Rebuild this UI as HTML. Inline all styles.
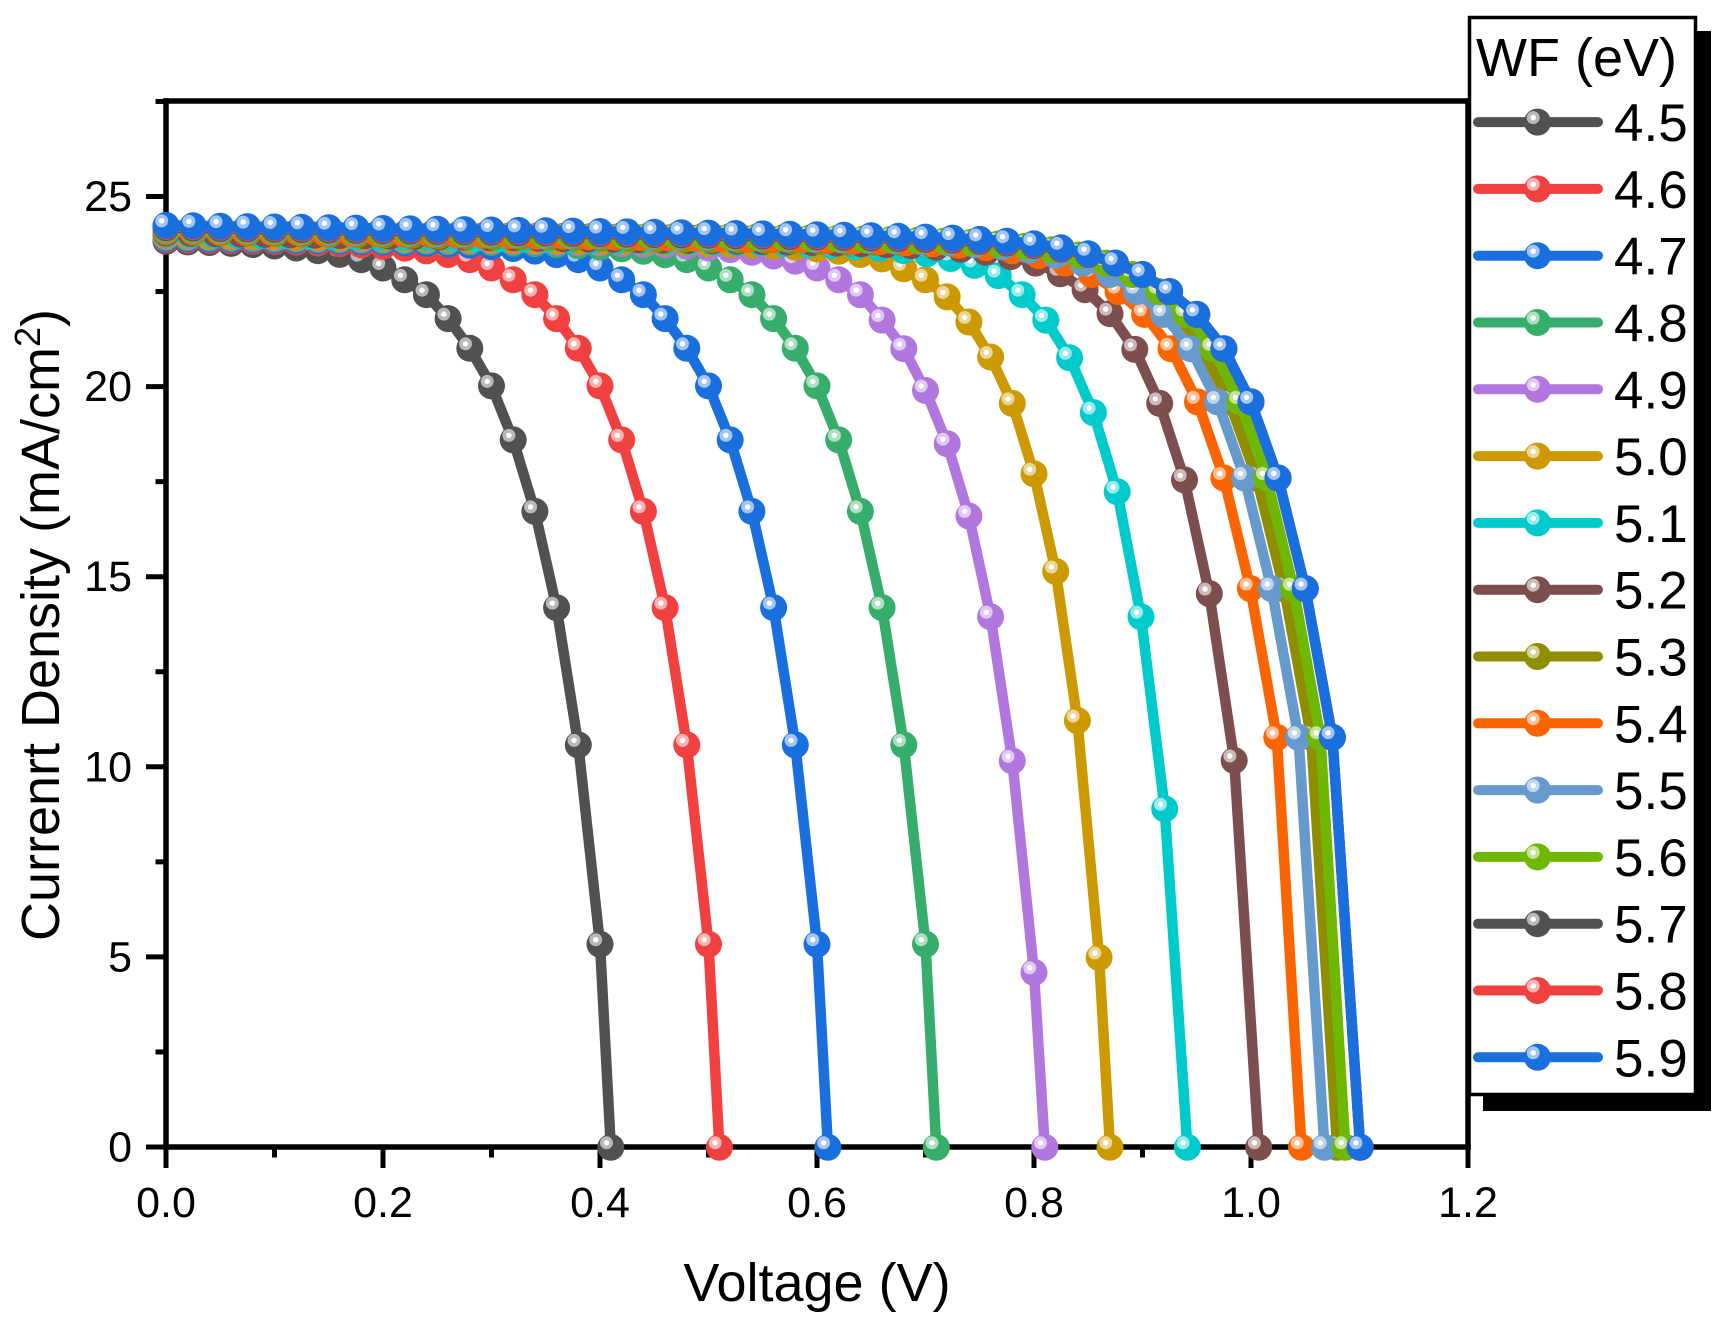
<!DOCTYPE html>
<html><head><meta charset="utf-8">
<style>
html,body{margin:0;padding:0;background:#fff;}
svg{display:block;}
text{font-family:"Liberation Sans",Arial,sans-serif;fill:#000;}
</style></head>
<body>
<svg width="1720" height="1323" viewBox="0 0 1720 1323" xmlns="http://www.w3.org/2000/svg">
<rect width="1720" height="1323" fill="#fff"/>
<!-- axes -->
<g stroke="#000" stroke-width="5.5" fill="none" stroke-linecap="square">
 <line x1="166" y1="101" x2="166" y2="1147"/>
 <line x1="166" y1="1147" x2="1468" y2="1147"/>
 <line x1="166" y1="101" x2="1468" y2="101"/>
 <line x1="1468" y1="101" x2="1468" y2="1147"/>
</g>
<g stroke="#000" stroke-width="5" fill="none">
 <line x1="166" y1="1147" x2="166" y2="1168"/>
 <line x1="383" y1="1147" x2="383" y2="1168"/>
 <line x1="600" y1="1147" x2="600" y2="1168"/>
 <line x1="817" y1="1147" x2="817" y2="1168"/>
 <line x1="1034" y1="1147" x2="1034" y2="1168"/>
 <line x1="1251" y1="1147" x2="1251" y2="1168"/>
 <line x1="1468" y1="1147" x2="1468" y2="1168"/>
 <line x1="274.5" y1="1147" x2="274.5" y2="1157.5"/>
 <line x1="491.5" y1="1147" x2="491.5" y2="1157.5"/>
 <line x1="708.5" y1="1147" x2="708.5" y2="1157.5"/>
 <line x1="925.5" y1="1147" x2="925.5" y2="1157.5"/>
 <line x1="1142.5" y1="1147" x2="1142.5" y2="1157.5"/>
 <line x1="1359.5" y1="1147" x2="1359.5" y2="1157.5"/>
 <line x1="146" y1="1147" x2="166" y2="1147"/>
 <line x1="146" y1="956.9" x2="166" y2="956.9"/>
 <line x1="146" y1="766.8" x2="166" y2="766.8"/>
 <line x1="146" y1="576.7" x2="166" y2="576.7"/>
 <line x1="146" y1="386.6" x2="166" y2="386.6"/>
 <line x1="146" y1="196.5" x2="166" y2="196.5"/>
 <line x1="155.5" y1="1051.95" x2="166" y2="1051.95"/>
 <line x1="155.5" y1="861.85" x2="166" y2="861.85"/>
 <line x1="155.5" y1="671.75" x2="166" y2="671.75"/>
 <line x1="155.5" y1="481.65" x2="166" y2="481.65"/>
 <line x1="155.5" y1="291.55" x2="166" y2="291.55"/>
 <line x1="155.5" y1="101.45" x2="166" y2="101.45"/>
</g>
<!-- tick labels -->
<g font-size="43" text-anchor="end">
 <text x="132" y="1161.5">0</text>
 <text x="132" y="971.4">5</text>
 <text x="132" y="781.3">10</text>
 <text x="132" y="591.2">15</text>
 <text x="132" y="401.1">20</text>
 <text x="132" y="211">25</text>
</g>
<g font-size="43" text-anchor="middle">
 <text x="166" y="1217">0.0</text>
 <text x="383" y="1217">0.2</text>
 <text x="600" y="1217">0.4</text>
 <text x="817" y="1217">0.6</text>
 <text x="1034" y="1217">0.8</text>
 <text x="1251" y="1217">1.0</text>
 <text x="1468" y="1217">1.2</text>
</g>
<text x="817" y="1301" font-size="54" text-anchor="middle">Voltage (V)</text>
<text transform="translate(59,625) rotate(-90)" font-size="54" text-anchor="middle">Currenrt Density (mA/cm<tspan font-size="36" dy="-19">2</tspan><tspan dy="19">)</tspan></text>

<g id="series"></g>

<!-- legend -->
<rect x="1483" y="31" width="228" height="1080" fill="#000"/>
<rect x="1469.5" y="17.5" width="226" height="1077" fill="#fff" stroke="#000" stroke-width="3.5"/>
<text x="1476" y="76" font-size="54">WF (eV)</text>
<g stroke-width="10" stroke-linecap="round">
 <line x1="1478" x2="1598" y1="122.1" y2="122.1" stroke="#515151"/>
 <line x1="1478" x2="1598" y1="188.9" y2="188.9" stroke="#F14040"/>
 <line x1="1478" x2="1598" y1="255.7" y2="255.7" stroke="#1A6FDF"/>
 <line x1="1478" x2="1598" y1="322.5" y2="322.5" stroke="#37AD6B"/>
 <line x1="1478" x2="1598" y1="389.3" y2="389.3" stroke="#B177DE"/>
 <line x1="1478" x2="1598" y1="456.1" y2="456.1" stroke="#CC9900"/>
 <line x1="1478" x2="1598" y1="522.9" y2="522.9" stroke="#00CBCC"/>
 <line x1="1478" x2="1598" y1="589.7" y2="589.7" stroke="#7D4E4E"/>
 <line x1="1478" x2="1598" y1="656.5" y2="656.5" stroke="#8E8E00"/>
 <line x1="1478" x2="1598" y1="723.3" y2="723.3" stroke="#FB6501"/>
 <line x1="1478" x2="1598" y1="790.1" y2="790.1" stroke="#6699CC"/>
 <line x1="1478" x2="1598" y1="856.9" y2="856.9" stroke="#6FB802"/>
 <line x1="1478" x2="1598" y1="923.7" y2="923.7" stroke="#515151"/>
 <line x1="1478" x2="1598" y1="990.5" y2="990.5" stroke="#F14040"/>
 <line x1="1478" x2="1598" y1="1057.3" y2="1057.3" stroke="#1A6FDF"/>
</g>
<g>
 <g transform="translate(1537.5,122.1)"><circle r="13.5" fill="#515151"/><circle cx="-4.3" cy="-4.5" r="6.5" fill="#B9B9B9"/><circle cx="-4.3" cy="-4.5" r="2.7" fill="#fff"/></g>
 <g transform="translate(1537.5,188.9)"><circle r="13.5" fill="#F14040"/><circle cx="-4.3" cy="-4.5" r="6.5" fill="#F9B3B3"/><circle cx="-4.3" cy="-4.5" r="2.7" fill="#fff"/></g>
 <g transform="translate(1537.5,255.7)"><circle r="13.5" fill="#1A6FDF"/><circle cx="-4.3" cy="-4.5" r="6.5" fill="#A3C5F2"/><circle cx="-4.3" cy="-4.5" r="2.7" fill="#fff"/></g>
 <g transform="translate(1537.5,322.5)"><circle r="13.5" fill="#37AD6B"/><circle cx="-4.3" cy="-4.5" r="6.5" fill="#AFDEC4"/><circle cx="-4.3" cy="-4.5" r="2.7" fill="#fff"/></g>
 <g transform="translate(1537.5,389.3)"><circle r="13.5" fill="#B177DE"/><circle cx="-4.3" cy="-4.5" r="6.5" fill="#E0C9F2"/><circle cx="-4.3" cy="-4.5" r="2.7" fill="#fff"/></g>
 <g transform="translate(1537.5,456.1)"><circle r="13.5" fill="#CC9900"/><circle cx="-4.3" cy="-4.5" r="6.5" fill="#EBD699"/><circle cx="-4.3" cy="-4.5" r="2.7" fill="#fff"/></g>
 <g transform="translate(1537.5,522.9)"><circle r="13.5" fill="#00CBCC"/><circle cx="-4.3" cy="-4.5" r="6.5" fill="#99EAEB"/><circle cx="-4.3" cy="-4.5" r="2.7" fill="#fff"/></g>
 <g transform="translate(1537.5,589.7)"><circle r="13.5" fill="#7D4E4E"/><circle cx="-4.3" cy="-4.5" r="6.5" fill="#CBB8B8"/><circle cx="-4.3" cy="-4.5" r="2.7" fill="#fff"/></g>
 <g transform="translate(1537.5,656.5)"><circle r="13.5" fill="#8E8E00"/><circle cx="-4.3" cy="-4.5" r="6.5" fill="#D2D299"/><circle cx="-4.3" cy="-4.5" r="2.7" fill="#fff"/></g>
 <g transform="translate(1537.5,723.3)"><circle r="13.5" fill="#FB6501"/><circle cx="-4.3" cy="-4.5" r="6.5" fill="#FDC199"/><circle cx="-4.3" cy="-4.5" r="2.7" fill="#fff"/></g>
 <g transform="translate(1537.5,790.1)"><circle r="13.5" fill="#6699CC"/><circle cx="-4.3" cy="-4.5" r="6.5" fill="#C2D6EB"/><circle cx="-4.3" cy="-4.5" r="2.7" fill="#fff"/></g>
 <g transform="translate(1537.5,856.9)"><circle r="13.5" fill="#6FB802"/><circle cx="-4.3" cy="-4.5" r="6.5" fill="#C5E399"/><circle cx="-4.3" cy="-4.5" r="2.7" fill="#fff"/></g>
 <g transform="translate(1537.5,923.7)"><circle r="13.5" fill="#515151"/><circle cx="-4.3" cy="-4.5" r="6.5" fill="#B9B9B9"/><circle cx="-4.3" cy="-4.5" r="2.7" fill="#fff"/></g>
 <g transform="translate(1537.5,990.5)"><circle r="13.5" fill="#F14040"/><circle cx="-4.3" cy="-4.5" r="6.5" fill="#F9B3B3"/><circle cx="-4.3" cy="-4.5" r="2.7" fill="#fff"/></g>
 <g transform="translate(1537.5,1057.3)"><circle r="13.5" fill="#1A6FDF"/><circle cx="-4.3" cy="-4.5" r="6.5" fill="#A3C5F2"/><circle cx="-4.3" cy="-4.5" r="2.7" fill="#fff"/></g>
</g>
<g font-size="53">
 <text x="1614" y="141.1">4.5</text>
 <text x="1614" y="207.9">4.6</text>
 <text x="1614" y="274.7">4.7</text>
 <text x="1614" y="341.5">4.8</text>
 <text x="1614" y="408.3">4.9</text>
 <text x="1614" y="475.1">5.0</text>
 <text x="1614" y="541.9">5.1</text>
 <text x="1614" y="608.7">5.2</text>
 <text x="1614" y="675.5">5.3</text>
 <text x="1614" y="742.3">5.4</text>
 <text x="1614" y="809.1">5.5</text>
 <text x="1614" y="875.9">5.6</text>
 <text x="1614" y="942.7">5.7</text>
 <text x="1614" y="1009.5">5.8</text>
 <text x="1614" y="1076.3">5.9</text>
</g>
</svg>
<script>
(function(){
var X=function(v){return 166+v*1085;}, Y=function(j){return 1147.3-j*38.03;};
var colors=['#515151','#F14040','#1A6FDF','#37AD6B','#B177DE','#CC9900','#00CBCC','#7D4E4E','#8E8E00','#FB6501','#6699CC','#6FB802','#515151','#F14040','#1A6FDF'];
function tint(hex,f){var n=parseInt(hex.slice(1),16);var r=n>>16,g=(n>>8)&255,b=n&255;r=Math.round(r+(255-r)*f);g=Math.round(g+(255-g)*f);b=Math.round(b+(255-b)*f);return 'rgb('+r+','+g+','+b+')';}
var GRAY=[5.34,10.58,14.19,16.72,18.60,20.02,21.01,21.79,22.42,22.81,23.12,23.34];
var PURP=[4.6,10.16,13.95,16.6,18.5,19.9,21.0,21.75,22.42,22.81,23.12,23.3];
var GOLD=[4.99,11.22,15.14,17.71,19.56,20.78,21.7,22.36,22.81,23.1,23.36];
var CYAN=[8.90,13.95,17.24,19.32,20.76,21.75,22.42,22.92,23.19];
var BROWN=[10.17,14.56,17.55,19.56,20.98,21.92,22.55,22.97,23.25];
var BLUE=[10.78,14.69,17.6,19.6,21.0,21.9,22.5,22.95,23.25];
var specs=[
 [0.41,0.40,0.02,GRAY],
 [0.51,0.50,0.02,GRAY],
 [0.61,0.60,0.02,GRAY],
 [0.71,0.70,0.02,GRAY],
 [0.81,0.80,0.02,PURP],
 [0.87,0.86,0.02,GOLD],
 [0.9414,0.9205,0.0217,CYAN],
 [1.0071,0.9845,0.0229,BROWN],
 [1.0794,1.0555,0.0249,BLUE],
 [1.0465,1.0238,0.02415,BLUE],
 [1.0677,1.0438,0.0248,BLUE],
 [1.087,1.064,0.025,BLUE],
 [1.1006,1.075,0.025,BLUE],
 [1.1006,1.075,0.025,BLUE],
 [1.1006,1.075,0.025,BLUE]
];
var out='';
specs.forEach(function(sp,idx){
 var voc=sp[0],v1=sp[1],step=sp[2],seq=sp[3];
 var nst=Math.round(v1/step); step=v1/nst;
 var jsc=23.84+idx*0.0286, s=0.4, lam=0.055;
 var n=seq.length, vl=v1-(n-1)*step;
 var d1=Math.max(0,jsc-s*vl-seq[n-1]);
 var pts=[[voc,0]];
 for(var i=0;i<=nst;i++){var v=Math.max(0,v1-i*step); var j=i<n?seq[i]:jsc-s*v-d1*Math.exp((v-vl)/lam); pts.push([v,j]);}
 pts.reverse();
 var c=colors[idx], t=tint(c,0.6);
 var p=pts.map(function(q){return X(q[0]).toFixed(1)+','+Y(q[1]).toFixed(1);}).join(' ');
 out+='<polyline points="'+p+'" fill="none" stroke="'+c+'" stroke-width="10.5" stroke-linejoin="round" stroke-linecap="round"/>';
 pts.forEach(function(q){var x=X(q[0]),y=Y(q[1]);
  out+='<circle cx="'+x.toFixed(1)+'" cy="'+y.toFixed(1)+'" r="13.5" fill="'+c+'"/>'+
       '<circle cx="'+(x-4.3).toFixed(1)+'" cy="'+(y-4.5).toFixed(1)+'" r="6.5" fill="'+t+'"/>'+
       '<circle cx="'+(x-4.3).toFixed(1)+'" cy="'+(y-4.5).toFixed(1)+'" r="2.7" fill="#fff"/>';
 });
});
document.getElementById('series').innerHTML=out;
})();
</script>
</body>
</html>
